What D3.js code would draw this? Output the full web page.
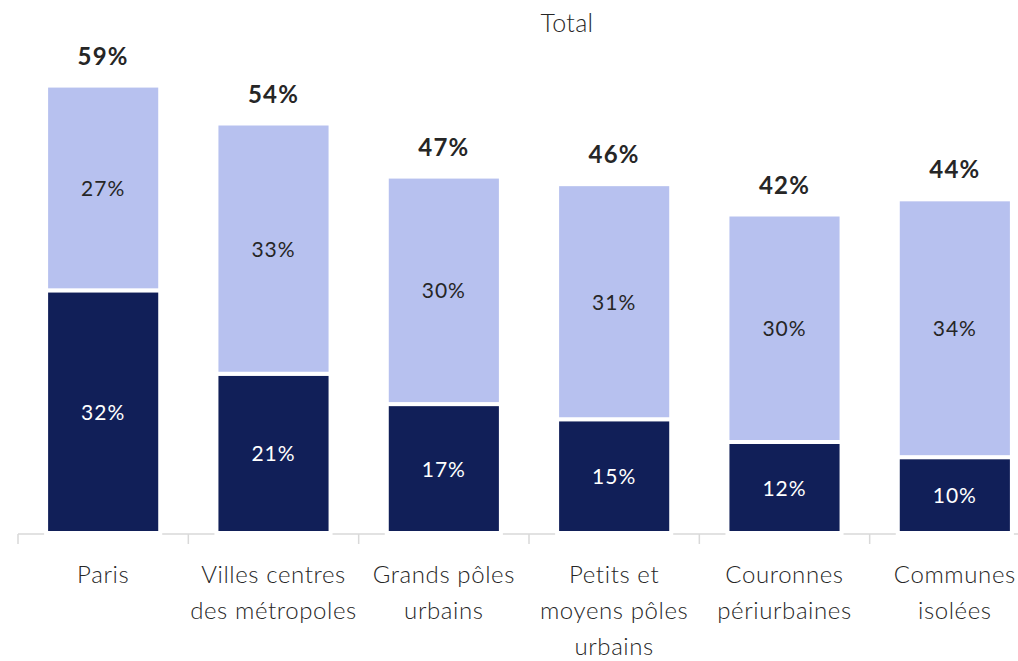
<!DOCTYPE html>
<html>
<head>
<meta charset="utf-8">
<script src="https://cdn.jsdelivr.net/npm/d3@7/dist/d3.min.js"></script>
<style>
  html, body { margin: 0; padding: 0; background: #fff; }
  svg { display: block; font-family: 'Lato', sans-serif; }
</style>
</head>
<body>
<svg id="chart"></svg>
<script>
'use strict';

const categories = [
  ['Paris'],
  ['Villes centres', 'des métropoles'],
  ['Grands pôles', 'urbains'],
  ['Petits et', 'moyens pôles', 'urbains'],
  ['Couronnes', 'périurbaines'],
  ['Communes', 'isolées']
];
const darkValues = [32, 21, 17, 15, 12, 10];
const lightValues = [27, 33, 30, 31, 30, 34];
const totals = [59, 54, 47, 46, 42, 44];
const title = 'Total';

const W = 1018, H = 661;
const svg = d3.select('#chart').attr('width', W).attr('height', H);

const keys = categories.map(c => c.join(' '));
const x = d3.scaleBand()
    .domain(keys)
    .range([18, 1040])
    .paddingInner(0.33)
    .paddingOuter(0.165);

const y = d3.scaleLinear()
    .domain([0, 60])
    .range([533, 78]);

const data = keys.map((k, i) => ({
  key: k,
  lines: categories[i],
  dark: darkValues[i],
  light: lightValues[i],
  total: totals[i]
}));

// title
svg.append('text')
    .attr('x', 567)
    .attr('y', 32)
    .attr('text-anchor', 'middle')
    .style('font-size', '25px')
    .style('font-weight', 300)
    .style('letter-spacing', '0.3px')
    .style('fill', '#262626')
    .text(title);

// axis line + boundary ticks
const step = x.step();
const half = (step - x.bandwidth()) / 2;
svg.append('line')
    .attr('x1', x(keys[0]) - half)
    .attr('x2', W)
    .attr('y1', y(0) + 1)
    .attr('y2', y(0) + 1)
    .style('stroke', '#d9d9d9')
    .style('stroke-width', 1.5);

svg.selectAll('.tick-mark')
    .data(keys)
  .enter().append('line')
    .attr('x1', d => x(d) - half)
    .attr('x2', d => x(d) - half)
    .attr('y1', y(0) + 1)
    .attr('y2', y(0) + 11)
    .style('stroke', '#d9d9d9')
    .style('stroke-width', 1.5);

const bars = svg.selectAll('.bar')
    .data(data)
  .enter().append('g')
    .attr('class', 'bar');

bars.append('rect')
    .attr('x', d => x(d.key))
    .attr('width', x.bandwidth())
    .attr('y', d => y(d.dark))
    .attr('height', d => y(0) - y(d.dark))
    .style('fill', '#111f58')
    .style('stroke', '#fff')
    .style('stroke-width', 4);

bars.append('rect')
    .attr('x', d => x(d.key))
    .attr('width', x.bandwidth())
    .attr('y', d => y(d.dark + d.light))
    .attr('height', d => y(d.dark) - y(d.dark + d.light))
    .style('fill', '#b7c1ef')
    .style('stroke', '#fff')
    .style('stroke-width', 4);

// segment labels
bars.append('text')
    .attr('x', d => x(d.key) + x.bandwidth() / 2)
    .attr('y', d => (y(0) + y(d.dark)) / 2 + 8)
    .attr('text-anchor', 'middle')
    .style('font-size', '21px')
    .style('letter-spacing', '1px')
    .style('fill', '#fff')
    .text(d => d.dark + '%');

bars.append('text')
    .attr('x', d => x(d.key) + x.bandwidth() / 2)
    .attr('y', d => (y(d.dark) + y(d.dark + d.light)) / 2 + 8)
    .attr('text-anchor', 'middle')
    .style('font-size', '21px')
    .style('letter-spacing', '1px')
    .style('fill', '#262626')
    .text(d => d.light + '%');

// totals
bars.append('text')
    .attr('x', d => x(d.key) + x.bandwidth() / 2)
    .attr('y', d => y(d.total) - 21)
    .attr('text-anchor', 'middle')
    .style('font-size', '24px')
    .style('font-weight', 700)
    .style('letter-spacing', '1.2px')
    .style('fill', '#262626')
    .text(d => d.total + '%');

// category labels
const cat = bars.append('text')
    .attr('text-anchor', 'middle')
    .style('font-size', '24px')
    .style('font-weight', 300)
    .style('letter-spacing', '0.6px')
    .style('fill', '#262626');

cat.selectAll('tspan')
    .data(d => d.lines.map(l => ({ l, cx: x(d.key) + x.bandwidth() / 2 })))
  .enter().append('tspan')
    .attr('x', d => d.cx)
    .attr('y', (d, i) => 583 + i * 36)
    .text(d => d.l);
</script>
</body>
</html>
